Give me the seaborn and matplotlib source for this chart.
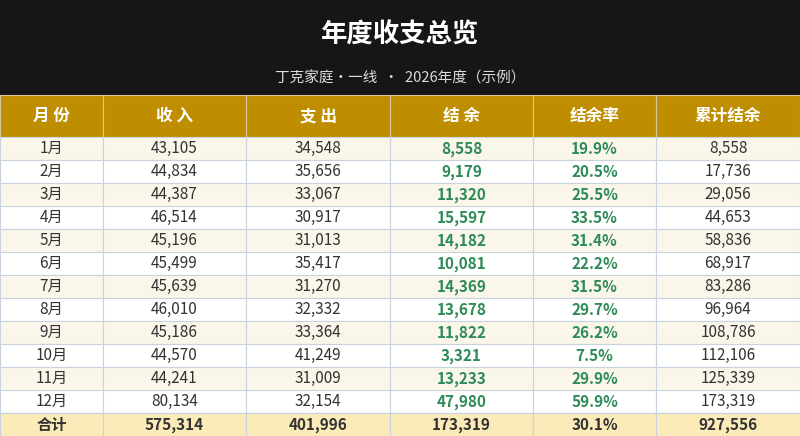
import matplotlib
matplotlib.use("Agg")
import matplotlib.pyplot as plt
import seaborn as sns
from matplotlib.patches import Rectangle

sns.set_theme(style="white")
plt.rcParams['font.family'] = ['Noto Sans CJK SC', 'DejaVu Sans']

# 数据
months = [f"{i}月" for i in range(1, 13)]
income = [43105, 44834, 44387, 46514, 45196, 45499, 45639, 46010, 45186, 44570, 44241, 80134]
expense = [34548, 35656, 33067, 30917, 31013, 35417, 31270, 32332, 33364, 41249, 31009, 32154]
balance = [8558, 9179, 11320, 15597, 14182, 10081, 14369, 13678, 11822, 3321, 13233, 47980]
rate = [19.9, 20.5, 25.5, 33.5, 31.4, 22.2, 31.5, 29.7, 26.2, 7.5, 29.9, 59.9]
cumulative = [8558, 17736, 29056, 44653, 58836, 68917, 83286, 96964, 108786, 112106, 125339, 173319]
total_row = ["合计", "575,314", "401,996", "173,319", "30.1%", "927,556"]
headers = ["月 份", "收 入", "支 出", "结 余", "结余率", "累计结余"]
title = "年度收支总览"
subtitle = "丁克家庭•一线  •  2026年度（示例）"

W, H = 800, 436
col_edges = [0, 103, 246, 390, 533, 656, 800]
title_h = 95
head_h = 42
row_h = (H - title_h - head_h) / 13

fig = plt.figure(figsize=(8, 4.36), dpi=100)
ax = fig.add_axes([0, 0, 1, 1])
ax.set_xlim(0, W)
ax.set_ylim(H, 0)
ax.axis("off")

# 标题区
ax.add_patch(Rectangle((0, 0), W, title_h, color="#161616"))
ax.text(W / 2, 35, title, color="white", fontsize=19, fontweight="bold", ha="center", va="center")
ax.text(W / 2, 79, subtitle, color="#dddddd", fontsize=10.5, ha="center", va="center")

# 表头
for j, h in enumerate(headers):
    x0, x1 = col_edges[j], col_edges[j + 1]
    ax.add_patch(Rectangle((x0, title_h), x1 - x0, head_h, facecolor="#BE8E00",
                           edgecolor="#d8c89a", lw=0.8))
    ax.text((x0 + x1) / 2, title_h + head_h / 2, h, color="white", fontsize=12,
            fontweight="bold", ha="center", va="center")

green = "#2E8B57"
rows = []
for i in range(12):
    rows.append([months[i], f"{income[i]:,}", f"{expense[i]:,}", f"{balance[i]:,}",
                 f"{rate[i]:.1f}%", f"{cumulative[i]:,}"])
rows.append(total_row)

for i, r in enumerate(rows):
    y0 = title_h + head_h + i * row_h
    is_total = i == 12
    bg = "#FBEBB8" if is_total else ("#FBF6EA" if i % 2 == 0 else "white")
    for j, v in enumerate(r):
        x0, x1 = col_edges[j], col_edges[j + 1]
        ax.add_patch(Rectangle((x0, y0), x1 - x0, row_h, facecolor=bg,
                               edgecolor="#c9d3e0", lw=0.8))
        color = "#333333"
        weight = "normal"
        if is_total:
            weight = "bold"
        elif j in (3, 4):
            color = green
            weight = "bold"
        ax.text((x0 + x1) / 2, y0 + row_h / 2, v, color=color, fontsize=11,
                fontweight=weight, ha="center", va="center")

fig.savefig("out.png", dpi=100)
